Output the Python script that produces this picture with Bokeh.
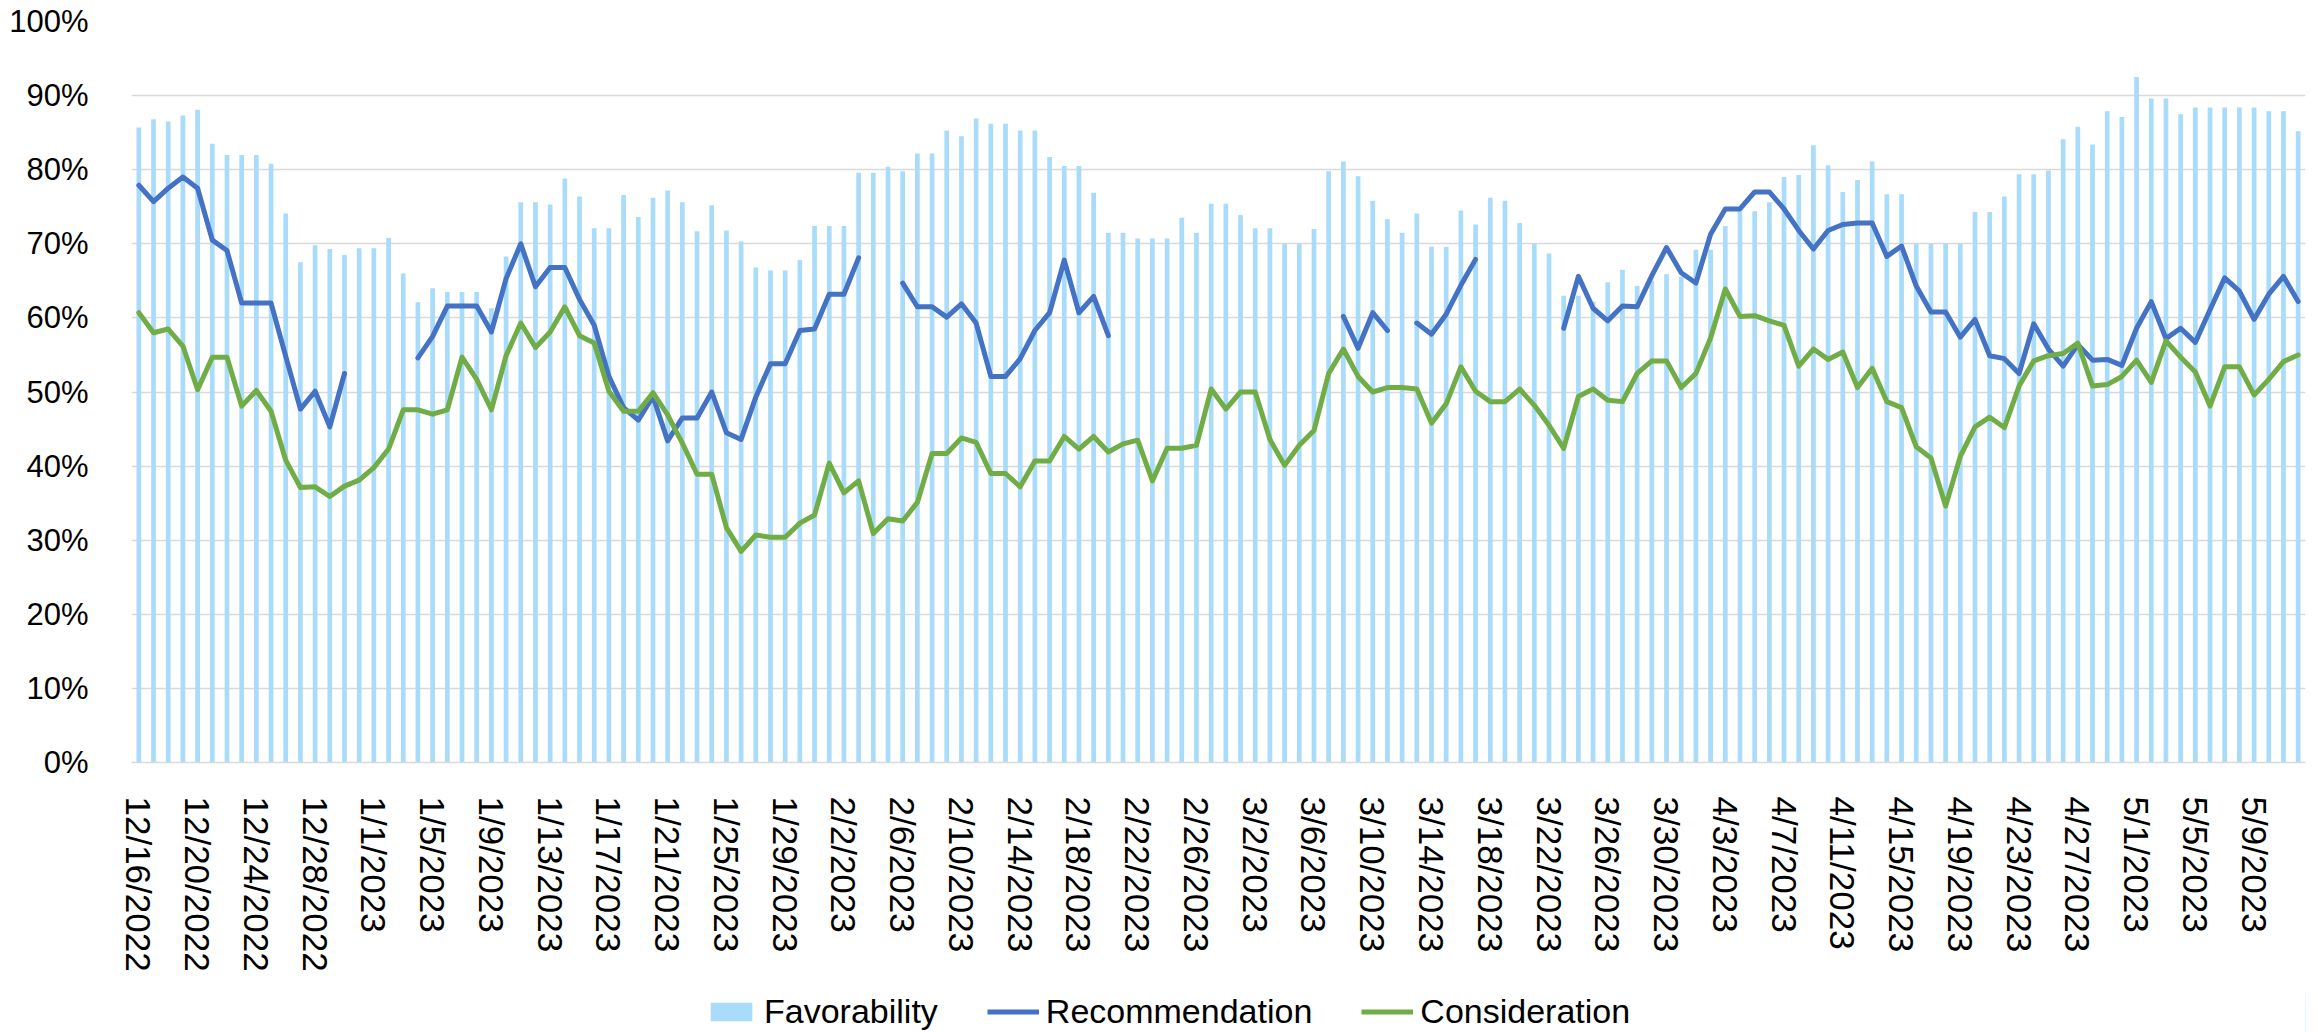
import datetime as dt
from bokeh.plotting import figure
from bokeh.layouts import column
from bokeh.models import (ColumnDataSource, Range1d, FixedTicker, NumeralTickFormatter,
                          Legend, LegendItem)
from bokeh.embed import file_html
from bokeh.resources import INLINE

nan = float("nan")

start_date = dt.date(2022, 12, 16)

favorability = [
    85.7, 86.8, 86.5, 87.3, 88.1, 83.5, 82.0, 82.0, 82.0, 80.8, 74.1, 67.5, 69.8, 69.3, 68.5, 69.4,
    69.4, 70.8, 66.0, 62.1, 64.0, 63.5, 63.5, 63.5, 61.3, 68.3,
    75.6, 75.6, 75.3, 78.8, 76.4, 72.1, 72.1, 76.6, 73.6, 76.2, 77.2, 75.6, 71.7, 75.2, 71.8, 70.3,
    66.8, 66.4, 66.4, 67.8, 72.4, 72.4, 72.4, 79.6, 79.6,
    80.4, 79.8, 82.2, 82.2, 85.3, 84.5, 86.9, 86.2, 86.2, 85.3, 85.3, 81.7, 80.5, 80.5, 76.9, 71.5,
    71.5, 70.7, 70.7, 70.7, 73.5, 71.5, 75.4, 75.4, 73.9,
    72.1, 72.1, 70.0, 70.0, 72.0, 79.8, 81.1, 79.1, 75.8, 73.3, 71.5, 74.1, 69.6, 69.6, 74.5, 72.6,
    76.2, 75.8, 72.8, 70.0, 68.7, 63.0, 63.0, 62.2, 64.8,
    66.5, 64.3, 65.0, 65.9, 65.6, 69.2, 69.2, 72.4, 74.4, 74.4, 75.6, 79.0, 79.3, 83.3, 80.6, 77.0,
    78.6, 81.1, 76.7, 76.7, 70.0, 70.0, 70.0, 70.0, 74.3, 74.3,
    76.4, 79.4, 79.4, 79.9, 84.1, 85.8, 83.4, 87.9, 87.1, 92.5, 89.6, 89.6, 87.5, 88.4, 88.4, 88.4,
    88.4, 88.4, 87.9, 87.9, 85.2,
]

recommendation = [
    77.9, 75.7, 77.5, 79.0, 77.5, 70.5, 69.1, 62.0, 62.0, 62.0, 54.8, 47.7, 50.1, 45.3, 52.5, nan,
    nan, nan, nan, 54.6, 57.5, 61.6, 61.6, 61.6, 58.1, 65.3,
    70.0, 64.2, 66.8, 66.8, 62.5, 59.0, 52.1, 47.9, 46.2, 49.4, 43.4, 46.5, 46.5, 50.0, 44.5, 43.6,
    49.3, 53.8, 53.8, 58.3, 58.5, 63.2, 63.2, 68.1, nan,
    nan, 64.7, 61.5, 61.5, 60.1, 61.9, 59.3, 52.1, 52.1, 54.5, 58.3, 60.7, 67.8, 60.7, 62.9, 57.6,
    nan, nan, nan, nan, nan, nan, nan, nan, nan,
    nan, nan, nan, nan, nan, nan, 60.2, 55.9, 60.7, 58.3, nan, 59.3, 57.8, 60.5, 64.4, 67.9,
    nan, nan, nan, nan, nan, 58.6, 65.6, 61.3, 59.6,
    61.6, 61.5, 65.7, 69.5, 66.1, 64.7, 71.3, 74.7, 74.7, 77.0, 77.0, 74.7, 71.8, 69.3, 71.8, 72.6,
    72.8, 72.8, 68.3, 69.7, 64.3, 60.8, 60.8, 57.4, 59.8, 54.9,
    54.5, 52.5, 59.2, 55.8, 53.5, 56.4, 54.3, 54.4, 53.6, 58.6, 62.2, 57.2, 58.6, 56.7, 61.1, 65.4,
    63.6, 59.8, 63.2, 65.6, 62.2,
]

consideration = [
    60.7, 58.0, 58.5, 56.2, 50.3, 54.7, 54.7, 48.1, 50.2, 47.4, 40.8, 37.1, 37.2, 35.9, 37.3, 38.1,
    39.8, 42.3, 47.6, 47.6, 47.0, 47.6, 54.7, 51.7, 47.6, 54.9,
    59.3, 56.0, 58.1, 61.5, 57.6, 56.6, 50.1, 47.4, 47.4, 49.9, 46.9, 43.1, 38.9, 38.9, 31.7, 28.5,
    30.7, 30.4, 30.4, 32.3, 33.4, 40.4, 36.4, 38.0, 30.9,
    32.9, 32.6, 35.1, 41.7, 41.7, 43.8, 43.2, 39.0, 39.0, 37.2, 40.7, 40.7, 44.0, 42.3, 44.0, 41.9,
    43.0, 43.5, 38.0, 42.4, 42.4, 42.8, 50.4, 47.7, 50.0,
    50.0, 43.6, 40.1, 42.8, 44.8, 52.5, 55.8, 52.1, 50.0, 50.6, 50.6, 50.4, 45.8, 48.4, 53.4, 50.1,
    48.7, 48.7, 50.4, 48.2, 45.5, 42.4, 49.4, 50.4, 48.9,
    48.7, 52.5, 54.2, 54.2, 50.6, 52.5, 57.3, 63.9, 60.2, 60.3, 59.6, 59.0, 53.5, 55.8, 54.4, 55.4,
    50.6, 53.2, 48.7, 47.9, 42.6, 41.1, 34.6, 41.3, 45.3, 46.6,
    45.2, 50.8, 54.2, 54.9, 55.2, 56.6, 50.8, 51.0, 52.1, 54.3, 51.3, 56.9, 54.7, 52.7, 48.1, 53.4,
    53.4, 49.6, 51.7, 54.1, 55.0,
]

tick_labels = [
    "12/16/2022", "12/20/2022", "12/24/2022", "12/28/2022", "1/1/2023", "1/5/2023", "1/9/2023",
    "1/13/2023", "1/17/2023", "1/21/2023", "1/25/2023", "1/29/2023", "2/2/2023", "2/6/2023",
    "2/10/2023", "2/14/2023", "2/18/2023", "2/22/2023", "2/26/2023", "3/2/2023", "3/6/2023",
    "3/10/2023", "3/14/2023", "3/18/2023", "3/22/2023", "3/26/2023", "3/30/2023", "4/3/2023",
    "4/7/2023", "4/11/2023", "4/15/2023", "4/19/2023", "4/23/2023", "4/27/2023", "5/1/2023",
    "5/5/2023", "5/9/2023",
]

series_names = ["Favorability", "Recommendation", "Consideration"]
series_colors = ["#A9DBFA", "#4472C4", "#70AD47"]

n = len(favorability)
dates = [(start_date + dt.timedelta(days=i)) for i in range(n)]
date_labels = [f"{d.month}/{d.day}/{d.year}" for d in dates]
idx = list(range(n))

source = ColumnDataSource(dict(
    x=idx,
    date=date_labels,
    fav=[v / 100 for v in favorability],
    rec=[v / 100 for v in recommendation],
    con=[v / 100 for v in consideration],
))

tick_idx = [date_labels.index(t) for t in tick_labels]

FONT = "Liberation Sans"
MAIN_H = 992
LEG_H = 1032 - MAIN_H

main = figure(width=2318, height=MAIN_H, output_backend="svg", toolbar_location=None,
              x_range=Range1d(-0.5, n - 0.5), y_range=Range1d(0, 1),
              min_border_left=131, min_border_right=13, min_border_top=21,
              min_border_bottom=MAIN_H - 762)
main.outline_line_color = None
main.background_fill_color = "white"
main.border_fill_color = "white"

main.vbar(x="x", top="fav", width=0.32, source=source, color=series_colors[0], line_color=None)
main.line(x="x", y="rec", source=source, line_color=series_colors[1], line_width=5,
          line_join="round", line_cap="round")
main.line(x="x", y="con", source=source, line_color=series_colors[2], line_width=5,
          line_join="round", line_cap="round")

# y axis
main.yaxis.ticker = FixedTicker(ticks=[i / 10 for i in range(11)])
main.yaxis.formatter = NumeralTickFormatter(format="0%")
main.yaxis.axis_line_color = None
main.yaxis.major_tick_line_color = None
main.yaxis.minor_tick_line_color = None
main.yaxis.major_label_standoff = 37
main.yaxis.major_label_text_font = FONT
main.yaxis.major_label_text_font_size = "31px"
main.yaxis.major_label_text_color = "#000000"

# x axis
main.xaxis.ticker = FixedTicker(ticks=tick_idx)
main.xaxis.major_label_overrides = {i: lab for i, lab in zip(tick_idx, tick_labels)}
main.xaxis.major_label_orientation = "vertical"
main.xaxis.axis_line_color = "#D9D9D9"
main.xaxis.axis_line_width = 1.5
main.xaxis.major_tick_line_color = None
main.xaxis.minor_tick_line_color = None
main.xaxis.major_label_standoff = 28
main.xaxis.major_label_text_font = FONT
main.xaxis.major_label_text_font_size = "35px"
main.xaxis.major_label_text_color = "#000000"

main.xgrid.grid_line_color = None
main.ygrid.grid_line_color = "#D9D9D9"
main.ygrid.grid_line_width = 1.5

# legend strip (separate figure so the legend can sit below the tick labels)
lf = figure(width=2318, height=LEG_H, output_backend="svg", toolbar_location=None,
            x_range=Range1d(0, 1), y_range=Range1d(0, 1),
            x_axis_location=None, y_axis_location=None,
            min_border_left=131, min_border_right=13, min_border_top=0, min_border_bottom=0)
lf.outline_line_color = None
lf.xgrid.grid_line_color = None
lf.ygrid.grid_line_color = None
lf.border_fill_color = "white"
lf.background_fill_color = "white"

# proxy glyphs, placed outside the visible range, used only for the legend swatches
leg_bar = lf.vbar(x=[50], top=[1], width=0.3, color=series_colors[0], line_color=None)
leg_rec = lf.line(x=[50, 51], y=[0.5, 0.5], line_color=series_colors[1], line_width=5)
leg_con = lf.line(x=[50, 51], y=[0.5, 0.5], line_color=series_colors[2], line_width=5)

legend = Legend(items=[
    LegendItem(label=series_names[0], renderers=[leg_bar]),
    LegendItem(label=series_names[1], renderers=[leg_rec]),
    LegendItem(label=series_names[2], renderers=[leg_con]),
], orientation="horizontal", location=(574, 1))
legend.border_line_color = None
legend.background_fill_alpha = 0
legend.padding = 0
legend.margin = 0
legend.spacing = 49
legend.glyph_width = 52
legend.glyph_height = 23
legend.label_standoff = 7
legend.label_text_font = FONT
legend.label_text_font_size = "34px"
legend.label_text_color = "#000000"
lf.add_layout(legend, "center")

p = column(main, lf, spacing=0)

open("out.html", "w").write(file_html(p, INLINE))
